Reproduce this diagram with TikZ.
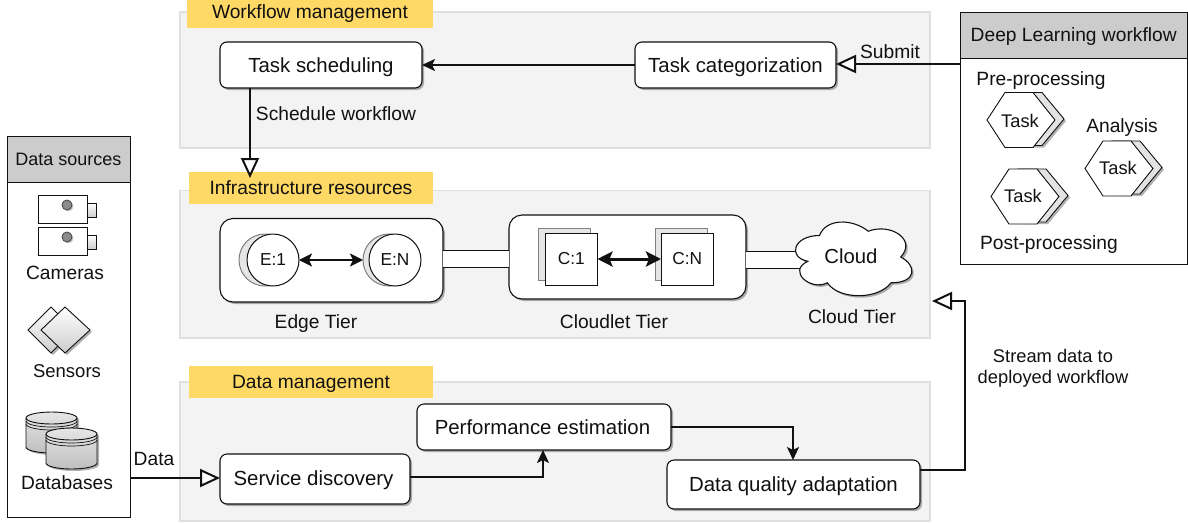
\documentclass[tikz,border=0pt]{standalone}
\usepackage{fontspec}
\setmainfont{Liberation Sans}
\usetikzlibrary{arrows.meta,shadows,calc}
\definecolor{panelfill}{HTML}{F3F3F3}
\definecolor{panelline}{HTML}{E0E0E0}
\definecolor{tag}{HTML}{FFD966}
\definecolor{head}{HTML}{CCCCCC}
\definecolor{inkc}{HTML}{111111}
\definecolor{backfill}{HTML}{E6E6E6}
\newcommand{\fs}[1]{\fontsize{#1}{#1}\selectfont}
\tikzset{
  softshadow/.style={drop shadow={shadow xshift=2pt,shadow yshift=-2pt,fill=black,opacity=.3}},
  bx/.style={shape=rectangle,inner sep=0pt,outer sep=0pt,align=center,text height=13pt,text depth=0pt,text=inkc},
  panel/.style={bx,draw=panelline,fill=panelfill,line width=1.2pt},
  tagbox/.style={bx,fill=tag,font=\fs{19.2}},
  headbox/.style={bx,draw=inkc,fill=head,line width=.9pt,font=\fs{18}},
  bodybox/.style={bx,draw=inkc,fill=white,line width=.9pt},
  proc/.style={bx,draw=inkc,fill=white,line width=1.1pt,rounded corners=7pt,softshadow,font=\fs{20.4},text height=14pt},
  tier/.style={bx,draw=inkc,fill=white,line width=1.1pt,rounded corners=13pt,softshadow},
  lab/.style={bx,font=\fs{19.2}},
  small/.style={bx,font=\fs{18.3},text height=12.4pt},
  thin/.style={draw=inkc,line width=1pt},
  flow/.style={draw=inkc,line width=2pt,-{Stealth[length=13pt,width=12pt,inset=3pt]}},
  open/.style={draw=inkc,line width=2pt,-{Triangle[fill=white,length=20pt,width=18pt,line width=2pt]}},
  both/.style={draw=inkc,line width=2pt,{Stealth[length=13pt,width=13pt,inset=3pt]}-{Stealth[length=13pt,width=13pt,inset=3pt]}},
  bothx/.style={draw=inkc,line width=3pt,{Stealth[length=15pt,width=15pt,inset=3pt]}-{Stealth[length=15pt,width=15pt,inset=3pt]}},
  frontround/.style={shape=circle,inner sep=0pt,outer sep=0pt,minimum size=52pt,draw=inkc,fill=white,line width=1pt,font=\fs{17.3},text=inkc},
  backround/.style={shape=circle,inner sep=0pt,outer sep=0pt,minimum size=52pt,draw=gray,fill=backfill,line width=1pt},
  backsq/.style={bx,draw=gray,fill=backfill,line width=1pt},
  frontsq/.style={bx,draw=inkc,fill=white,line width=1pt,font=\fs{17.3},text height=11.8pt},
  gradfill/.style={top color=white,bottom color=black!20,draw=inkc,line width=.9pt},
  dbfill/.style={top color=black!10,bottom color=black!25,draw=inkc,line width=.9pt}
}
% #1 options, #2 name, #3 x0, #4 y0, #5 x1, #6 y1, #7 text
\newcommand{\pxbox}[7]{%
  \pgfmathsetmacro{\cxv}{(#3+#5)/2}\pgfmathsetmacro{\cyv}{(#4+#6)/2}%
  \pgfmathsetmacro{\wv}{#5-#3}\pgfmathsetmacro{\hv}{#6-#4}%
  \node[#1,minimum width=\wv pt,minimum height=\hv pt] (#2) at (\cxv,\cyv) {#7};}
% hexagon: #1 left, #2 centre y, #3 right, #4 half height, #5 options
\newcommand{\hexa}[5]{%
  \path[#5,line width=.9pt] (#1,#2) -- (#1+18,#2-#4) -- (#3-22,#2-#4) -- (#3,#2) -- (#3-22,#2+#4) -- (#1+18,#2+#4) -- cycle;}
\newcommand{\taskhex}[3]{%
  \begin{scope}
  \hexa{#1+9}{#2-1}{#3+9}{26.5}{draw=inkc,fill=black!11,softshadow}
  \hexa{#1}{#2}{#3}{27.5}{draw=inkc,fill=white}
  \end{scope}}
\newcommand{\camera}[1]{%
  \draw[gradfill] (87,#1+8) rectangle (96,#1+22);
  \draw[draw=inkc,fill=white,line width=.9pt] (38,#1) rectangle (87,#1+28);
  \fill[black!20] (68.5,#1+11.5) circle (5pt);
  \draw[draw=black!70,fill=black!45,line width=.9pt] (67,#1+10) circle (5pt);}
\newcommand{\database}[3]{%
  \path[dbfill,softshadow] (#1,#2+6) -- (#1,#2+35) arc[x radius=25.5,y radius=6,start angle=180,end angle=0] -- (#1+51,#2+6) arc[x radius=25.5,y radius=6,start angle=0,end angle=-180] -- cycle;
  \draw[draw=inkc,line width=.9pt] (#1,#2+6) arc[x radius=25.5,y radius=6,start angle=180,end angle=0];
  \draw[draw=inkc,line width=.7pt] (#1,#2+9) arc[x radius=25.5,y radius=6,start angle=180,end angle=0];
  \draw[draw=inkc,line width=.7pt] (#1,#2+12) arc[x radius=25.5,y radius=6,start angle=180,end angle=0];}
\begin{document}
\begin{tikzpicture}[x=1pt,y=-1pt]
\useasboundingbox (0,0) rectangle (1188,523);
% panels
\pxbox{panel}{pWork}{180}{12}{930}{148}{}
\pxbox{panel}{pInfra}{180}{190.5}{930}{338}{}
\pxbox{panel}{pData}{180}{382}{930}{521}{}
% tags
\pxbox{tagbox}{tWork}{187}{0}{433}{28}{\raisebox{2pt}{Workflow management}}
\pxbox{tagbox}{tInfra}{189}{172}{433}{204}{Infrastructure resources}
\pxbox{tagbox}{tData}{189}{366}{433}{398}{Data management}
% data sources
\pxbox{bodybox}{srcBody}{7}{182}{130}{517}{}
\pxbox{headbox}{srcHead}{7}{136}{130}{182}{Data sources}
\camera{195}
\camera{227}
\node[lab] (camLab) at (65,273) {Cameras};
\path[gradfill,softshadow] (28,330) -- (51,307) -- (74,330) -- (51,353) -- cycle;
\path[gradfill,softshadow] (41,330) -- (65,307) -- (90,330) -- (65,353) -- cycle;
\node[lab,font=\fs{18.5}] (senLab) at (67,371) {Sensors};
\database{26}{412}{}
\database{46}{428}{}
\node[lab] (dbLab) at (67,483) {Databases};
% deep learning workflow
\pxbox{bodybox}{dlBody}{960}{58}{1187.4}{264}{}
\pxbox{headbox}{dlHead}{960}{12}{1187.4}{58}{\fs{19.2}Deep Learning workflow}
\node[lab] (preLab) at (1041,79) {Pre-processing};
\taskhex{987}{120}{1055}
\node[small] (t1) at (1020,121) {Task};
\node[lab] (anaLab) at (1122,126) {Analysis};
\taskhex{1085}{168.5}{1153}
\node[small] (t2) at (1118,168) {Task};
\taskhex{991}{196.5}{1059}
\node[small] (t3) at (1023,196) {Task};
\node[lab] (postLab) at (1049,243) {Post-processing};
% workflow nodes
\pxbox{proc}{sched}{220}{42}{422}{88}{Task scheduling}
\pxbox{proc}{categ}{635}{42}{836}{88}{Task categorization}
% links (white strips), drawn under the tiers
\coordinate (cloudA) at (808,251);
\coordinate (cloudB) at (808,268);
\pxbox{tier}{edge}{220}{218.5}{443}{302}{}
\pxbox{tier}{cloudlet}{509}{215}{746}{299}{}
\fill[white] (edge.east |- 0,250) rectangle (cloudlet.west |- 0,267);
\fill[white] (cloudlet.east |- 0,251) rectangle (cloudB);
\draw[thin] (edge.east |- 0,250) -- (cloudlet.west |- 0,250);
\draw[thin] (edge.east |- 0,267) -- (cloudlet.west |- 0,267);
\draw[thin] (cloudlet.east |- 0,251) -- (cloudA);
\draw[thin] (cloudlet.east |- 0,268) -- (cloudB);
\node[backround] (e1b) at (265,260) {};
\node[frontround] (e1) at (273,260) {E:1};
\node[backround] (enb) at (389,260) {};
\node[frontround] (en) at (395,260) {E:N};
\draw[both] (e1) -- (enb);
\pxbox{backsq}{c1b}{538}{228}{590}{280}{}
\pxbox{frontsq}{c1}{545}{233}{597.5}{285}{C:1}
\pxbox{backsq}{cnb}{655}{228}{707}{280}{}
\pxbox{frontsq}{cn}{661}{233}{713.5}{285}{C:N}
\draw[bothx] (c1) -- (cn);
\path[draw=inkc,fill=white,line width=1.1pt,softshadow]
  (819.5,235.5) .. controls (793.5,235.5) and (787,257) .. (807.8,261.3)
  .. controls (787,270.8) and (810.4,291.4) .. (827.3,282.8)
  .. controls (839,300) and (878,300) .. (891,282.8)
  .. controls (917,282.8) and (917,265.6) .. (900.75,257)
  .. controls (917,239.8) and (891,222.6) .. (868.25,231.2)
  .. controls (852,218.3) and (826,218.3) .. (819.5,235.5) -- cycle;
\node[lab,font=\fs{20.3},text height=14pt] (cloud) at (851,256) {Cloud};
\node[lab] (edgeLab) at (316,322) {Edge Tier};
\node[lab] (cloudletLab) at (614,322) {Cloudlet Tier};
\node[lab] (cloudTierLab) at (852,317) {Cloud Tier};
% data management
\pxbox{proc}{disc}{220}{454}{410}{504}{\kern-3pt\raisebox{1pt}{Service discovery}}
\pxbox{proc}{perf}{417}{404}{671}{450}{\kern-3pt Performance estimation}
\pxbox{proc}{qual}{667}{460}{920}{509}{Data quality adaptation}
% connectors
\coordinate (deployIn) at (932,301);
\draw[flow] (categ.west) -- (sched.east);
\draw[open] (dlBody.west |- 0,64) -- (categ.east |- 0,64);
\draw[open] (250,0 |- sched.south) -- (250,178);
\draw[open] (srcBody.east |- 0,478) -- (disc.west |- 0,478);
\draw[flow] (disc.east |- 0,477) -- (543,477) -- (543,0 |- perf.south);
\draw[flow] (perf.east |- 0,427) -- (793,427) -- (793,0 |- qual.north);
\draw[open] (qual.east |- 0,470) -- (965,470) -- (965,301) -- (deployIn);
% connector labels
\node[lab] (submit) at (890,52) {Submit};
\node[lab] (schedLab) at (336,114) {Schedule workflow};
\node[lab] (dataLab) at (154,459) {Data};
\node[small] (stream1) at (1053,356) {Stream data to};
\node[small] (stream2) at (1053,377) {deployed workflow};
\end{tikzpicture}
\end{document}
